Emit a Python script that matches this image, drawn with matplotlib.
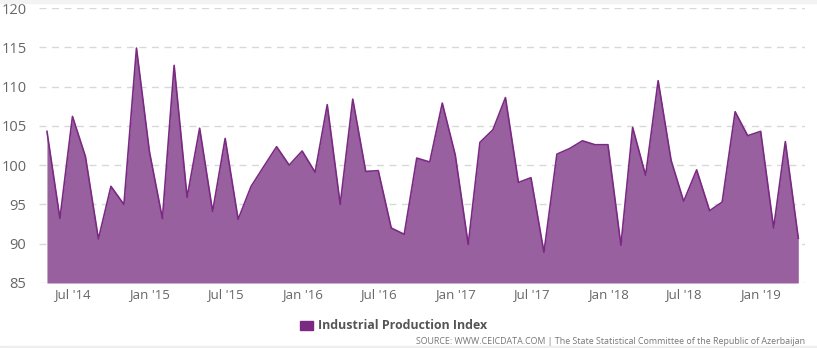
import matplotlib
matplotlib.use("Agg")
import matplotlib.pyplot as plt
from matplotlib.patches import Rectangle
import pandas as pd

plt.rcParams['font.family'] = ['Open Sans', 'DejaVu Sans']

# Monthly Industrial Production Index, Azerbaijan (May 2014 - Apr 2019)
months = pd.date_range("2014-05-01", "2019-04-01", freq="MS")
ipi = [
    104.3, 93.2, 106.2, 101.1, 90.6, 97.3, 95.0, 114.9,            # 2014 May-Dec
    101.7, 93.2, 112.7, 95.9, 104.7, 94.1, 103.4, 93.1, 97.3, 99.8, 102.35, 100.0,  # 2015
    101.8, 99.1, 107.7, 95.0, 108.4, 99.2, 99.3, 92.0, 91.2, 100.9, 100.4, 107.9,   # 2016
    101.3, 89.9, 102.9, 104.5, 108.6, 97.8, 98.4, 88.9, 101.4, 102.1, 103.1, 102.6, # 2017
    102.6, 89.8, 104.8, 98.7, 110.75, 100.6, 95.4, 99.4, 94.2, 95.3, 106.8, 103.75, # 2018
    104.3, 92.0, 103.0, 90.7,                                       # 2019 Jan-Apr
]
y_ticks = [85, 90, 95, 100, 105, 110, 115, 120]
x_tick_dates = pd.to_datetime(["2014-07-01", "2015-01-01", "2015-07-01", "2016-01-01",
                               "2016-07-01", "2017-01-01", "2017-07-01", "2018-01-01",
                               "2018-07-01", "2019-01-01"])
x_tick_labels = ["Jul '14", "Jan '15", "Jul '15", "Jan '16", "Jul '16",
                 "Jan '17", "Jul '17", "Jan '18", "Jul '18", "Jan '19"]

fill_color = "#98609f"
line_color = "#7a2a82"
text_color = "#666666"

W, H = 817, 348
fig = plt.figure(figsize=(W / 100, H / 100), dpi=100)

# faint frame strips at the top and bottom edges
fig.patches.append(Rectangle((0, (H - 3) / H), 1, 3 / H, transform=fig.transFigure,
                             color="#f3f3f3", figure=fig, zorder=0))
fig.patches.append(Rectangle((0, 0), 1, 2 / H, transform=fig.transFigure,
                             color="#eeeeee", figure=fig, zorder=0))

ax = fig.add_axes([39 / W, (H - 283) / H, (805 - 39) / W, (283 - 8) / H])
ax.patch.set_alpha(0)

ax.fill_between(months, ipi, 85, color=fill_color, linewidth=0, zorder=2)
ax.plot(months, ipi, color=line_color, linewidth=1.2, zorder=3)

ax.set_ylim(85, 120)
ax.set_xlim(months[0] - pd.Timedelta(days=19), months[-1] + pd.Timedelta(days=16))
ax.set_yticks(y_ticks)
ax.yaxis.grid(True, color="#d8d8d8", linestyle=(0, (5, 4)), linewidth=1, zorder=1)
ax.set_xticks(x_tick_dates)
ax.set_xticklabels(x_tick_labels)
for s in ax.spines.values():
    s.set_visible(False)
ax.tick_params(axis="y", length=0, pad=9, labelsize=10.5, labelcolor=text_color)
ax.tick_params(axis="x", length=0, pad=4, labelsize=9.5, labelcolor=text_color)

# Legend
fig.patches.append(Rectangle((300 / W, (H - 330) / H), 13 / W, 9 / H,
                             transform=fig.transFigure, color="#7a2a82", figure=fig))
fig.text(318 / W, (H - 325.5) / H, "Industrial Production Index", fontsize=8.9,
         fontweight="bold", color="#555555", va="center", ha="left")

# Source note
fig.text(805 / W, (H - 341) / H,
         "SOURCE: WWW.CEICDATA.COM | The State Statistical Committee of the Republic of Azerbaijan",
         fontsize=6.4, color="#777777", va="center", ha="right")

fig.savefig("out.png", dpi=100, facecolor="white")
